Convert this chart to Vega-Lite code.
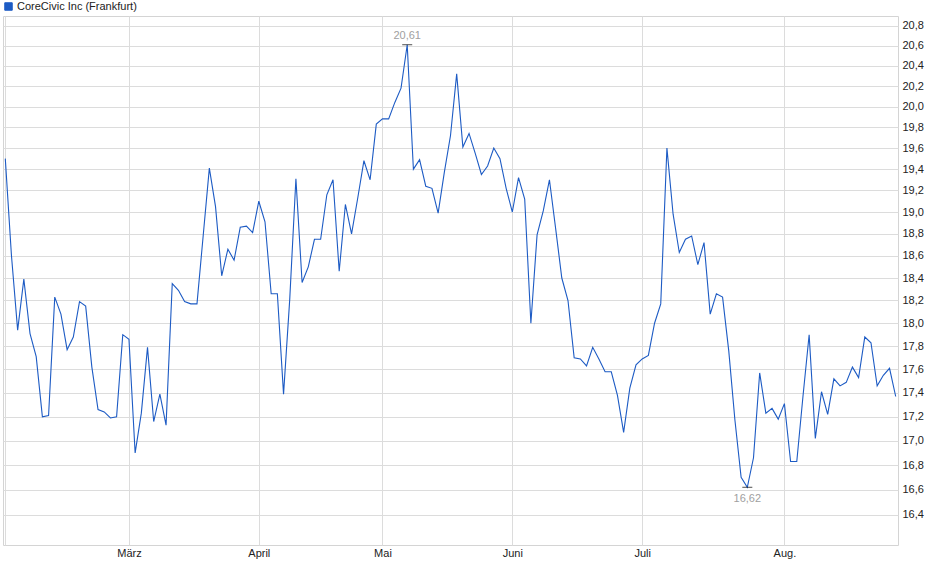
{
  "$schema": "https://vega.github.io/schema/vega-lite/v6.json",
  "width": 895,
  "height": 529,
  "autosize": {"type": "none"},
  "padding": {"left": 3, "top": 16, "right": 42, "bottom": 34},
  "background": "white",
  "config": {
    "locale": {"number": {"decimal": ",", "thousands": ".", "grouping": [3], "currency": ["", " €"]}},
    "font": "Liberation Sans",
    "view": {"stroke": "#d4d4d4", "strokeWidth": 1},
    "axis": {"gridColor": "#dcdcdc", "gridWidth": 1, "domain": false, "ticks": false, "labelFont": "Liberation Sans", "labelFontSize": 11, "labelColor": "#222222", "title": null}
  },
  "data": {"values": [
    {"date":"2025-02-03","price":19.50},{"date":"2025-02-04","price":18.60},{"date":"2025-02-05","price":17.94},{"date":"2025-02-06","price":18.39},{"date":"2025-02-07","price":17.91},
    {"date":"2025-02-10","price":17.71},{"date":"2025-02-11","price":17.20},{"date":"2025-02-12","price":17.21},{"date":"2025-02-13","price":18.23},{"date":"2025-02-14","price":18.08},
    {"date":"2025-02-17","price":17.77},{"date":"2025-02-18","price":17.88},{"date":"2025-02-19","price":18.19},{"date":"2025-02-20","price":18.15},{"date":"2025-02-21","price":17.62},
    {"date":"2025-02-24","price":17.26},{"date":"2025-02-25","price":17.24},{"date":"2025-02-26","price":17.19},{"date":"2025-02-27","price":17.20},{"date":"2025-02-28","price":17.90},
    {"date":"2025-03-03","price":17.86},{"date":"2025-03-04","price":16.90},{"date":"2025-03-05","price":17.23},{"date":"2025-03-06","price":17.79},{"date":"2025-03-07","price":17.16},
    {"date":"2025-03-10","price":17.39},{"date":"2025-03-11","price":17.13},{"date":"2025-03-12","price":18.35},{"date":"2025-03-13","price":18.29},{"date":"2025-03-14","price":18.19},
    {"date":"2025-03-17","price":18.17},{"date":"2025-03-18","price":18.17},{"date":"2025-03-19","price":18.78},{"date":"2025-03-20","price":19.41},{"date":"2025-03-21","price":19.05},
    {"date":"2025-03-24","price":18.42},{"date":"2025-03-25","price":18.66},{"date":"2025-03-26","price":18.56},{"date":"2025-03-27","price":18.86},{"date":"2025-03-28","price":18.87},
    {"date":"2025-03-31","price":18.81},
    {"date":"2025-04-01","price":19.10},{"date":"2025-04-02","price":18.91},{"date":"2025-04-03","price":18.26},{"date":"2025-04-04","price":18.26},
    {"date":"2025-04-07","price":17.39},{"date":"2025-04-08","price":18.21},{"date":"2025-04-09","price":19.31},{"date":"2025-04-10","price":18.36},{"date":"2025-04-11","price":18.50},
    {"date":"2025-04-14","price":18.75},{"date":"2025-04-15","price":18.75},{"date":"2025-04-16","price":19.16},{"date":"2025-04-17","price":19.30},
    {"date":"2025-04-22","price":18.46},{"date":"2025-04-23","price":19.07},{"date":"2025-04-24","price":18.80},{"date":"2025-04-25","price":19.13},
    {"date":"2025-04-28","price":19.48},{"date":"2025-04-29","price":19.30},{"date":"2025-04-30","price":19.83},
    {"date":"2025-05-02","price":19.88},
    {"date":"2025-05-05","price":19.88},{"date":"2025-05-06","price":20.04},{"date":"2025-05-07","price":20.18},{"date":"2025-05-08","price":20.61},{"date":"2025-05-09","price":19.40},
    {"date":"2025-05-12","price":19.49},{"date":"2025-05-13","price":19.24},{"date":"2025-05-14","price":19.22},{"date":"2025-05-15","price":18.99},{"date":"2025-05-16","price":19.37},
    {"date":"2025-05-19","price":19.72},{"date":"2025-05-20","price":20.32},{"date":"2025-05-21","price":19.61},{"date":"2025-05-22","price":19.74},{"date":"2025-05-23","price":19.55},
    {"date":"2025-05-26","price":19.35},{"date":"2025-05-27","price":19.43},{"date":"2025-05-28","price":19.60},{"date":"2025-05-29","price":19.50},{"date":"2025-05-30","price":19.22},
    {"date":"2025-06-02","price":19.00},{"date":"2025-06-03","price":19.32},{"date":"2025-06-04","price":19.12},{"date":"2025-06-05","price":18.00},{"date":"2025-06-06","price":18.79},
    {"date":"2025-06-09","price":19.01},{"date":"2025-06-10","price":19.30},{"date":"2025-06-11","price":18.85},{"date":"2025-06-12","price":18.40},{"date":"2025-06-13","price":18.20},
    {"date":"2025-06-16","price":17.70},{"date":"2025-06-17","price":17.69},{"date":"2025-06-18","price":17.63},{"date":"2025-06-19","price":17.79},{"date":"2025-06-20","price":17.69},
    {"date":"2025-06-23","price":17.58},{"date":"2025-06-24","price":17.58},{"date":"2025-06-25","price":17.38},{"date":"2025-06-26","price":17.07},{"date":"2025-06-27","price":17.44},
    {"date":"2025-06-30","price":17.64},
    {"date":"2025-07-01","price":17.69},{"date":"2025-07-02","price":17.72},{"date":"2025-07-03","price":18.00},{"date":"2025-07-04","price":18.17},
    {"date":"2025-07-07","price":19.60},{"date":"2025-07-08","price":18.98},{"date":"2025-07-09","price":18.63},{"date":"2025-07-10","price":18.75},{"date":"2025-07-11","price":18.78},
    {"date":"2025-07-14","price":18.52},{"date":"2025-07-15","price":18.72},{"date":"2025-07-16","price":18.08},{"date":"2025-07-17","price":18.26},{"date":"2025-07-18","price":18.23},
    {"date":"2025-07-21","price":17.76},{"date":"2025-07-22","price":17.17},{"date":"2025-07-23","price":16.70},{"date":"2025-07-24","price":16.62},{"date":"2025-07-25","price":16.86},
    {"date":"2025-07-28","price":17.57},{"date":"2025-07-29","price":17.23},{"date":"2025-07-30","price":17.27},{"date":"2025-07-31","price":17.18},
    {"date":"2025-08-01","price":17.31},
    {"date":"2025-08-04","price":16.83},{"date":"2025-08-05","price":16.83},{"date":"2025-08-06","price":17.37},{"date":"2025-08-07","price":17.90},{"date":"2025-08-08","price":17.02},
    {"date":"2025-08-11","price":17.41},{"date":"2025-08-12","price":17.22},{"date":"2025-08-13","price":17.52},{"date":"2025-08-14","price":17.46},{"date":"2025-08-15","price":17.49},
    {"date":"2025-08-18","price":17.62},{"date":"2025-08-19","price":17.53},{"date":"2025-08-20","price":17.88},{"date":"2025-08-21","price":17.83},{"date":"2025-08-22","price":17.46},
    {"date":"2025-08-25","price":17.55},{"date":"2025-08-26","price":17.61},{"date":"2025-08-27","price":17.37}
  ]},
  "encoding": {
    "x": {
      "field": "date", "type": "ordinal",
      "scale": {"type": "point", "padding": 0.37},
      "axis": {
        "values": ["2025-02-03", "2025-03-03", "2025-04-01", "2025-05-02", "2025-06-02", "2025-07-01", "2025-08-01"],
        "labelExpr": "datum.value == '2025-03-03' ? 'März' : datum.value == '2025-04-01' ? 'April' : datum.value == '2025-05-02' ? 'Mai' : datum.value == '2025-06-02' ? 'Juni' : datum.value == '2025-07-01' ? 'Juli' : datum.value == '2025-08-01' ? 'Aug.' : ''",
        "labelAngle": 0,
        "grid": true,
        "labelPadding": 2,
        "labelBaseline": "top"
      }
    },
    "y": {
      "field": "price", "type": "quantitative",
      "scale": {"type": "log", "domain": [16.16, 20.9], "nice": false, "zero": false},
      "axis": {
        "orient": "right",
        "values": [16.4, 16.6, 16.8, 17.0, 17.2, 17.4, 17.6, 17.8, 18.0, 18.2, 18.4, 18.6, 18.8, 19.0, 19.2, 19.4, 19.6, 19.8, 20.0, 20.2, 20.4, 20.6, 20.8],
        "format": ".1f",
        "grid": true,
        "labelPadding": 4
      }
    }
  },
  "layer": [
    {
      "mark": {"type": "line", "strokeWidth": 1.1, "interpolate": "linear"},
      "encoding": {
        "color": {
          "datum": "CoreCivic Inc (Frankfurt)",
          "scale": {"range": ["#1D5BC4"]},
          "legend": {
            "title": null, "orient": "none", "legendX": 0, "legendY": -15,
            "symbolType": "square", "symbolSize": 56, "symbolStrokeWidth": 1,
            "labelFont": "Liberation Sans", "labelFontSize": 11, "labelColor": "#222222", "labelOffset": 3,
            "encode": {"symbols": {"update": {"fill": {"value": "#1D5BC4"}, "stroke": {"value": "#1b2f66"}, "strokeWidth": {"value": 1}}}}
          }
        }
      }
    },
    {
      "transform": [{"joinaggregate": [{"op": "max", "field": "price", "as": "ext"}]}, {"filter": "datum.price == datum.ext"}],
      "layer": [
        {"mark": {"type": "tick", "orient": "horizontal", "size": 10, "thickness": 1, "color": "black"}},
        {"mark": {"type": "text", "dy": -9, "fontSize": 11, "color": "#a0a0a0"}, "encoding": {"text": {"field": "price", "type": "quantitative", "format": ".2f"}}}
      ]
    },
    {
      "transform": [{"joinaggregate": [{"op": "min", "field": "price", "as": "ext"}]}, {"filter": "datum.price == datum.ext"}],
      "layer": [
        {"mark": {"type": "tick", "orient": "horizontal", "size": 10, "thickness": 1, "color": "black"}},
        {"mark": {"type": "text", "dy": 12, "fontSize": 11, "color": "#a0a0a0"}, "encoding": {"text": {"field": "price", "type": "quantitative", "format": ".2f"}}}
      ]
    }
  ]
}
